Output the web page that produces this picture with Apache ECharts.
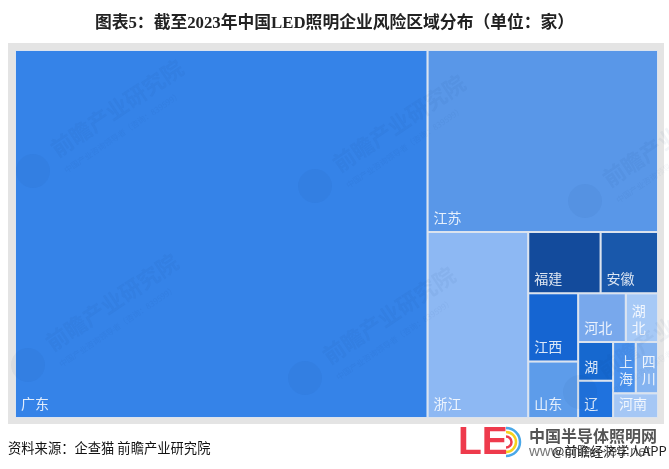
<!DOCTYPE html>
<html>
<head>
<meta charset="utf-8">
<style>
html, body { margin: 0; padding: 0; background: #fff; }
#main { width: 669px; height: 469px; }
</style>
<script src="https://cdn.jsdelivr.net/npm/echarts@6/dist/echarts.min.js"></script>
</head>
<body>
<div id="main"></div>
<script>
// 各省企业数量（按图中面积估算）
var names = ['广东', '江苏', '浙江', '福建', '安徽', '江西', '山东', '河北', '湖\n北', '湖', '辽', '上\n海', '四\n川', '河南'];
var values = [5610, 1550, 692, 164, 130, 126, 104, 86, 58, 50, 48, 43, 42, 41];
var colors = ['#3583e8', '#5997e8', '#8db8f3', '#134b9c', '#1958ab', '#1565d2', '#5d9cea', '#78a8ec', '#a6c9f6', '#1668cf', '#1f72de', '#4a91ec', '#84b3f0', '#a5c7f5'];

var titleText = '图表5：截至2023年中国LED照明企业风险区域分布（单位：家）';
var sourceText = '资料来源：企查猫 前瞻产业研究院';

var treeData = [];
for (var i = 0; i < names.length; i++) {
    treeData.push({ name: names[i], value: values[i], itemStyle: { color: colors[i] } });
}

var font = '"Noto Sans CJK SC", "Noto Sans", sans-serif';
var graphics = [];

// 灰色底
graphics.push({
    type: 'rect', z: -1, silent: true,
    shape: { x: 8, y: 43, width: 656, height: 381 },
    style: { fill: '#e4e4e4' }
});

// 水印
var wmColor = 'rgba(20,50,110,0.05)';
var wmAngle = 33.8 * Math.PI / 180;
var wmPos = [[53, 151], [335, 166], [605, 181], [48, 345], [325, 358], [600, 372]];
wmPos.forEach(function (p) {
    graphics.push({
        type: 'text', z: 100, silent: true, x: p[0], y: p[1], rotation: wmAngle,
        style: { text: '前瞻产业研究院', font: 'bold 22px ' + font, fill: wmColor, textVerticalAlign: 'middle' }
    });
    graphics.push({
        type: 'text', z: 100, silent: true, x: p[0] + 12, y: p[1] + 20, rotation: wmAngle,
        style: { text: '中国产业咨询领导者（咨询：839599）', font: '8px ' + font, fill: wmColor, textVerticalAlign: 'middle' }
    });
    graphics.push({
        type: 'circle', z: 100, silent: true,
        shape: { cx: p[0] - 20, cy: p[1] + 20, r: 17 },
        style: { fill: wmColor }
    });
});

// 右下角标识
graphics.push({
    type: 'text', x: 458, y: 443,
    style: { text: 'LE', font: 'bold 39px "Liberation Sans", sans-serif', fill: '#ee3a4c', textVerticalAlign: 'middle' }
});
[[14, '#4aa8e8'], [10, '#f6d21e'], [5.5, '#ee3a4c']].forEach(function (a) {
    graphics.push({
        type: 'arc', x: 506, y: 442,
        shape: { cx: 0, cy: 0, r: a[0], startAngle: -Math.PI / 2, endAngle: Math.PI / 2 },
        style: { stroke: a[1], lineWidth: 2.5, fill: 'none' }
    });
});
graphics.push({
    type: 'text', x: 529, y: 436,
    style: { text: '中国半导体照明网', font: 'bold 16px ' + font, fill: '#555', textVerticalAlign: 'middle' }
});
graphics.push({
    type: 'text', x: 529, y: 452,
    style: { text: 'www.china-led.net', font: '15px "Liberation Sans", sans-serif', fill: '#777', textVerticalAlign: 'middle' }
});
graphics.push({
    type: 'text', x: 552, y: 451,
    style: { text: '@前瞻经济学人APP', font: '13px ' + font, fill: '#222', textVerticalAlign: 'middle' }
});
graphics.push({
    type: 'text', x: 8, y: 448,
    style: { text: sourceText, font: '13.3px ' + font, fill: '#111', textVerticalAlign: 'middle' }
});

var chart = echarts.init(document.getElementById('main'), null, { renderer: 'canvas' });
chart.setOption({
    animation: false,
    backgroundColor: '#fff',
    title: {
        text: titleText,
        left: 'center',
        top: 10,
        textStyle: { fontFamily: '"Liberation Serif", "Noto Sans CJK SC", serif', fontSize: 16.8, fontWeight: 'bold', color: '#222' }
    },
    graphic: { elements: graphics },
    series: [{
        type: 'treemap',
        left: 15,
        top: 50,
        width: 643,
        height: 368,
        roam: false,
        nodeClick: false,
        silent: true,
        squareRatio: 1.2,
        breadcrumb: { show: false },
        label: {
            show: true,
            position: 'insideBottomLeft',
            distance: 0,
            padding: [0, 5, 5, 5],
            overflow: 'none',
            color: 'rgba(255,255,255,0.85)',
            fontFamily: font,
            fontSize: 14,
            lineHeight: 17
        },
        levels: [{
            itemStyle: { gapWidth: 2, borderWidth: 1, borderColor: '#dbe3ee' }
        }, {
            itemStyle: { borderWidth: 0, gapWidth: 0 }
        }],
        data: treeData
    }]
});
</script>
</body>
</html>
